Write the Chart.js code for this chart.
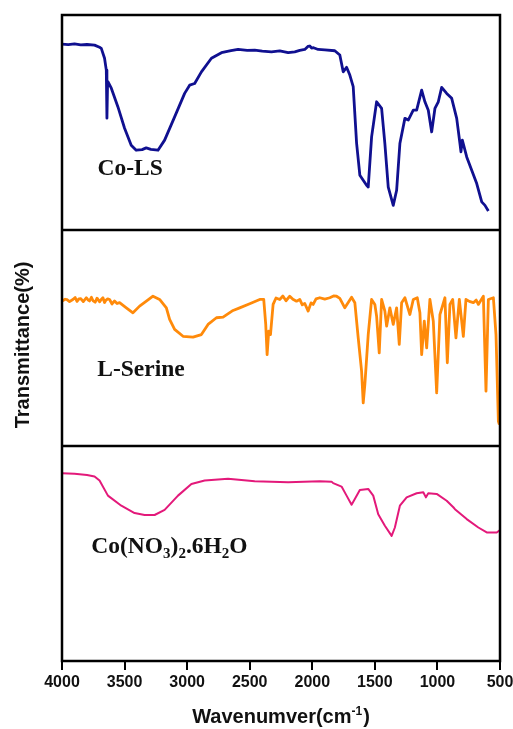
<!DOCTYPE html>
<html>
<head>
<meta charset="utf-8">
<script src="https://cdn.jsdelivr.net/npm/chart.js@4/dist/chart.umd.min.js"></script>
<style>
  html, body { margin: 0; padding: 0; background: #fff; }
  #wrap { width: 513px; height: 729px; }
</style>
</head>
<body>
<div id="wrap"><canvas id="ftir" width="513" height="729"></canvas></div>
<script>
// FTIR spectra, wavenumber (cm-1) and relative transmittance per panel
const coLsWavenumber = [4000,3950,3900,3850,3800,3740,3700,3686,3660,3646,3641,3636,3633,3606,3553,3500,3447,3407,3360,3327,3290,3233,3180,3100,3020,2980,2940,2886,2806,2726,2650,2593,2520,2460,2400,2326,2260,2193,2140,2100,2060,2035,2020,2005,1990,1953,1900,1820,1780,1753,1726,1700,1673,1646,1620,1566,1553,1526,1486,1446,1420,1393,1353,1326,1300,1260,1233,1193,1166,1126,1100,1073,1046,1020,993,966,926,886,846,820,812,801,766,686,646,620,593];
const coLsT = [86.5,86.2,86.6,86.1,86.3,86.0,85.0,84.5,79.9,74.4,52.1,68.0,69.0,66.0,57.3,47.4,39.5,37.2,37.5,38.3,37.6,37.2,41.9,52.7,63.6,67.4,68.2,73.6,79.9,82.5,83.4,84.0,83.6,83.7,83.2,82.9,83.3,82.5,82.9,83.6,84.0,85.4,85.6,84.6,84.8,84.0,83.8,83.4,81.4,73.6,75.7,72.1,66.7,40.5,25.6,20.9,20.1,43.4,59.7,56.6,40.3,20.1,11.6,18.6,40.3,52.0,51.2,55.8,55.8,65.1,59.7,55.8,45.7,56.6,59.7,66.4,63.6,61.3,52.0,40.3,36.4,41.9,34.1,21.7,13.2,11.6,9.0];

const serineWavenumber = [4000,3993,3975,3960,3940,3913,3895,3880,3865,3850,3830,3806,3790,3780,3765,3753,3735,3720,3700,3686,3673,3660,3650,3635,3620,3600,3580,3560,3540,3486,3433,3380,3326,3273,3220,3166,3140,3100,3033,2953,2886,2833,2766,2713,2633,2580,2500,2420,2388,2372,2361,2348,2334,2313,2290,2260,2235,2210,2180,2155,2126,2100,2080,2060,2033,2010,1993,1970,1940,1900,1860,1830,1806,1780,1740,1686,1660,1633,1606,1593,1580,1553,1526,1500,1486,1465,1446,1420,1406,1380,1353,1326,1305,1286,1260,1220,1193,1161,1140,1126,1105,1086,1060,1033,1006,980,940,921,900,878,852,825,793,772,745,713,690,673,650,633,612,593,553,532,513,505];
const serineT = [67.1,67.1,68.0,67.8,66.9,67.9,68.8,67.0,68.2,68.3,66.9,68.7,67.6,67.2,68.9,67.4,66.6,68.5,66.8,67.9,68.7,66.5,67.5,68.2,67.9,65.8,67.2,66.0,66.4,64.0,61.7,64.8,67.1,69.4,67.9,64.0,58.6,54.0,50.8,50.4,51.6,56.3,59.4,59.7,62.8,64.0,65.9,67.9,67.9,56.3,42.3,53.2,51.6,65.6,68.6,67.9,69.5,67.3,69.4,68.0,67.1,67.9,65.4,66.0,62.5,66.3,65.6,68.2,68.7,68.1,68.7,69.5,69.4,68.4,64.0,68.9,66.4,50.1,34.6,19.9,28.4,51.6,67.9,65.6,60.1,43.1,67.9,62.5,55.5,64.0,56.3,64.0,47.0,66.4,68.7,60.9,67.9,68.7,61.7,42.3,57.8,45.4,67.9,57.8,24.5,60.9,68.7,38.5,65.6,67.9,50.1,67.9,50.8,67.9,67.0,66.4,67.6,65.6,67.8,69.4,25.3,67.9,68.7,51.6,11.3,9.8];

const nitrateWavenumber = [4000,3900,3800,3740,3700,3633,3526,3420,3340,3260,3180,3073,2966,2860,2673,2460,2193,1940,1846,1833,1766,1726,1686,1660,1620,1553,1513,1473,1420,1366,1340,1300,1246,1166,1113,1092,1073,1006,926,873,860,766,673,606,526,500];
const nitrateT = [87.2,87.0,86.4,85.7,83.8,76.8,72.1,68.7,67.8,67.8,70.2,76.8,82.2,83.8,84.6,83.5,83.0,83.5,83.3,82.6,81.0,76.8,72.6,75.2,79.4,79.9,76.8,68.2,62.8,58.1,62.0,72.1,76.0,77.9,78.4,76.0,77.9,77.6,74.4,71.4,70.5,65.9,62.0,59.7,59.7,60.8];

const xTicks = [4000,3500,3000,2500,2000,1500,1000,500];

// Sample labels: [text, subscript?] pieces, placed at (wavenumber, level) of their panel
const sampleLabels = [
  [['Co-LS', false]],
  [['L-Serine', false]],
  [['Co(NO', false], ['3', true], [')', false], ['2', true], ['.6H', false], ['2', true], ['O', false]]
];
const labelWavenumbers = [3716, 3718, 3766];
const labelLevels = [25.6, 32.2, 50.3];
const panelIds = ['yTop', 'yMid', 'yBot'];

const toPoints = (xs, ys) => xs.map((x, i) => ({ x, y: ys[i] }));

const SANS = '"Liberation Sans", Arial, sans-serif';
const SERIF = '"Liberation Serif", "Times New Roman", serif';

const frame = {
  id: 'frame',
  afterDraw(chart) {
    const { ctx, chartArea: a } = chart;
    const xs = chart.scales.x;
    ctx.save();

    // panel frames
    ctx.strokeStyle = '#000';
    ctx.lineWidth = 2.5;
    ctx.strokeRect(a.left, a.top, a.right - a.left, a.bottom - a.top);
    ['yMid', 'yBot'].forEach(id => {
      const y = Math.round(chart.scales[id].top);
      ctx.beginPath();
      ctx.moveTo(a.left, y);
      ctx.lineTo(a.right, y);
      ctx.stroke();
    });

    // sample names
    ctx.fillStyle = '#111';
    ctx.textBaseline = 'alphabetic';
    ctx.textAlign = 'left';
    const size = 23.5;
    sampleLabels.forEach((parts, i) => {
      let cx = xs.getPixelForValue(labelWavenumbers[i]);
      const by = chart.scales[panelIds[i]].getPixelForValue(labelLevels[i]);
      parts.forEach(([t, sub]) => {
        ctx.font = `bold ${sub ? 15 : size}px ${SERIF}`;
        ctx.fillText(t, cx, by + (sub ? 5 : 0));
        cx += ctx.measureText(t).width;
      });
    });

    // x-axis title with superscript
    ctx.fillStyle = '#111';
    const main = 'Wavenumver(cm', sup = '-1', close = ')';
    ctx.font = `bold 20px ${SANS}`;
    const wMain = ctx.measureText(main).width;
    const wClose = ctx.measureText(close).width;
    ctx.font = `bold 12px ${SANS}`;
    const wSup = ctx.measureText(sup).width;
    const total = wMain + wSup + 1 + wClose;
    let tx = (a.left + a.right) / 2 - total / 2;
    const ty = 723;
    ctx.font = `bold 20px ${SANS}`;
    ctx.fillText(main, tx, ty);
    tx += wMain;
    ctx.font = `bold 12px ${SANS}`;
    ctx.fillText(sup, tx, ty - 8);
    tx += wSup + 1;
    ctx.font = `bold 20px ${SANS}`;
    ctx.fillText(close, tx, ty);

    // y-axis title
    ctx.translate(23, 345);
    ctx.rotate(-Math.PI / 2);
    ctx.textAlign = 'center';
    ctx.textBaseline = 'middle';
    ctx.font = `bold 20px ${SANS}`;
    ctx.fillText('Transmittance(%)', 0, 0);
    ctx.restore();
  }
};

const hiddenY = (weight) => ({
  type: 'linear',
  position: 'left',
  stack: 'panels',
  stackWeight: 1,
  weight,
  min: 0,
  max: 100,
  display: true,
  grid: { display: false },
  border: { display: false },
  ticks: { display: false },
  afterFit: s => { s.width = 0; }
});

new Chart(document.getElementById('ftir'), {
  type: 'line',
  data: {
    datasets: [
      { label: 'Co-LS', data: toPoints(coLsWavenumber, coLsT), yAxisID: 'yTop',
        borderColor: '#101090', borderWidth: 2.8 },
      { label: 'L-Serine', data: toPoints(serineWavenumber, serineT), yAxisID: 'yMid',
        borderColor: '#ff8a0a', borderWidth: 2.8 },
      { label: 'Co(NO3)2.6H2O', data: toPoints(nitrateWavenumber, nitrateT), yAxisID: 'yBot',
        borderColor: '#e3197a', borderWidth: 2 }
    ]
  },
  options: {
    responsive: false,
    animation: false,
    elements: { point: { radius: 0 }, line: { tension: 0, borderJoinStyle: 'round' } },
    layout: { padding: { left: 62, right: 13, top: 15, bottom: 0 } },
    plugins: { legend: { display: false }, tooltip: { enabled: false } },
    scales: {
      x: {
        type: 'linear',
        reverse: true,
        min: 500,
        max: 4000,
        afterBuildTicks: s => { s.ticks = xTicks.map(v => ({ value: v })); },
        afterFit: s => { s.height = 68; s.paddingLeft = 0; s.paddingRight = 0; },
        grid: { display: true, drawOnChartArea: false, drawTicks: true, tickLength: 9,
                color: '#000', lineWidth: 2 },
        border: { display: false },
        ticks: { color: '#111', padding: 3, maxRotation: 0,
                 callback: v => String(v),
                 font: { family: SANS, size: 16, weight: 'bold' } }
      },
      yTop: hiddenY(3),
      yMid: hiddenY(2),
      yBot: hiddenY(1)
    }
  },
  plugins: [frame]
});
</script>
</body>
</html>
